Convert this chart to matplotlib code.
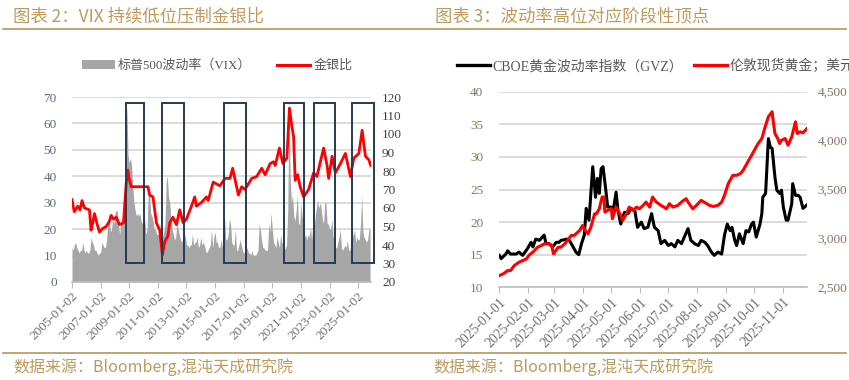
import matplotlib
matplotlib.use('Agg')
import matplotlib.pyplot as plt
import matplotlib.dates as mdates
from matplotlib.patches import Rectangle, Patch
from matplotlib.lines import Line2D
import numpy as np
import pandas as pd

plt.rcParams['font.family'] = ['Liberation Serif', 'Noto Sans CJK SC', 'DejaVu Sans']

# ---------------- Left chart data ----------------
vix_start_year = 2005
vix_monthly = [
    13, 12, 14, 15, 13, 12, 11, 12, 12, 15, 12, 11,   # 2005
    12, 11, 11, 12, 17, 15, 14, 12, 12, 11, 10, 11,   # 2006
    11, 15, 14, 13, 13, 16, 22, 26, 20, 19, 24, 22,   # 2007
    26, 27, 27, 21, 18, 23, 24, 21, 32, 60, 66, 48,   # 2008
    45, 47, 44, 36, 30, 27, 25, 26, 25, 26, 23, 22,   # 2009
    22, 24, 18, 20, 35, 34, 26, 25, 23, 20, 20, 18,   # 2010
    18, 18, 22, 16, 17, 19, 22, 38, 40, 32, 30, 24,   # 2011
    20, 18, 16, 17, 22, 20, 18, 16, 15, 17, 16, 18,   # 2012
    14, 14, 13, 14, 14, 18, 14, 15, 15, 17, 13, 14,   # 2013
    17, 14, 15, 14, 12, 11, 12, 13, 14, 20, 13, 17,   # 2014
    19, 15, 15, 13, 13, 16, 13, 27, 24, 16, 16, 18,   # 2015
    24, 22, 15, 14, 14, 20, 12, 12, 14, 16, 14, 12,   # 2016
    11, 11, 12, 13, 11, 11, 10, 12, 10, 10, 10, 11,   # 2017
    12, 22, 20, 16, 13, 13, 12, 12, 12, 22, 19, 26,   # 2018
    20, 15, 14, 13, 17, 15, 13, 18, 15, 14, 12, 13,   # 2019
    14, 28, 65, 40, 30, 33, 25, 23, 27, 33, 22, 22,   # 2020
    30, 25, 22, 17, 18, 16, 18, 17, 21, 16, 22, 19,   # 2021
    25, 28, 31, 28, 30, 28, 24, 22, 30, 30, 22, 22,   # 2022
    20, 20, 24, 17, 17, 13, 13, 15, 17, 20, 13, 12,   # 2023
    13, 14, 13, 16, 12, 12, 14, 20, 17, 20, 15, 17,   # 2024
    16, 16, 22, 33, 19, 17, 16, 15, 16, 20, 20,       # 2025
]

ratio_year = [2005.0, 2005.16, 2005.4, 2005.56, 2005.7, 2005.87, 2006.22, 2006.33, 2006.45,
              2006.57, 2006.73, 2006.92, 2007.15, 2007.39, 2007.62, 2007.74, 2007.9, 2008.09,
              2008.32, 2008.6, 2008.79, 2008.9, 2009.02, 2009.14, 2010.31, 2010.43, 2010.66,
              2010.9, 2011.13, 2011.32, 2011.48, 2011.71, 2011.83, 2012.06, 2012.3, 2012.53,
              2012.77, 2013.0, 2013.35, 2013.58, 2013.7, 2014.05, 2014.4, 2014.52, 2014.87,
              2015.34, 2015.69, 2016.04, 2016.23, 2016.63, 2016.86, 2017.09, 2017.56, 2017.91,
              2018.26, 2018.5, 2018.85, 2019.08, 2019.2, 2019.5, 2019.74, 2020.02, 2020.2,
              2020.37, 2020.49, 2020.6, 2020.77, 2020.95, 2021.19, 2021.54, 2021.89, 2022.12,
              2022.36, 2022.59, 2022.83, 2022.94, 2023.18, 2023.41, 2023.76, 2024.11, 2024.46,
              2024.7, 2025.05, 2025.28, 2025.51, 2025.75, 2025.88]
ratio_vals = [64.5, 58, 61, 59, 64, 60, 59, 48, 52,
              57, 52, 47, 49, 50, 53, 56, 54, 55,
              51, 52, 73.5, 80.5, 75, 71.5, 71.5, 67, 66,
              52, 48, 34.6, 41.8, 45, 52, 55, 51, 59,
              52, 54, 61, 66, 61, 63, 66, 64, 74,
              72, 76, 76, 81.5, 67, 71.5, 70, 76, 77,
              81.5, 78, 84, 85, 83, 92.4, 84, 87, 114,
              104, 98.6, 75, 78, 71.5, 66, 70, 79, 77,
              85, 92.4, 83, 76, 88, 79, 84, 89.5, 77,
              87, 89.5, 102, 88, 86, 83]

# highlight windows (start year, end year), drawn in right-axis units
box_start = [2008.75, 2011.3, 2015.6, 2019.8, 2021.9, 2024.6]
box_end = [2010.0, 2012.85, 2017.15, 2021.2, 2023.4, 2026.1]
box_low, box_high = 30.1, 116.6

left_xticks = [2005, 2007, 2009, 2011, 2013, 2015, 2017, 2019, 2021, 2023, 2025]
left_xlabels = ['%d-01-02' % y for y in left_xticks]

# ---------------- Right chart data ----------------
gvz_dates = ['01-01', '01-03', '01-08', '01-10', '01-13', '01-19', '01-22', '01-26', '01-31',
             '02-04', '02-06', '02-09', '02-13', '02-16', '02-18', '02-20', '02-23', '02-27',
             '03-03', '03-06', '03-08', '03-12', '03-14', '03-17', '03-21', '03-24', '03-27',
             '03-30', '04-02', '04-04', '04-07', '04-09', '04-11', '04-14', '04-16', '04-18',
             '04-20', '04-22', '04-25', '04-27', '05-01', '05-03', '05-06', '05-08', '05-11',
             '05-15', '05-19', '05-22', '05-26', '05-29', '06-02', '06-05', '06-09', '06-13',
             '06-16', '06-20', '06-23', '06-27', '07-01', '07-04', '07-08', '07-11', '07-15',
             '07-18', '07-22', '07-25', '07-29', '08-02', '08-05', '08-09', '08-12', '08-16',
             '08-19', '08-23', '08-27', '08-30', '09-02', '09-05', '09-07', '09-10', '09-12',
             '09-15', '09-19', '09-22', '09-25', '09-28', '09-30', '10-03', '10-07', '10-09',
             '10-10', '10-13', '10-16', '10-18', '10-20', '10-23', '10-25', '10-28', '10-30',
             '11-01', '11-04', '11-06', '11-10', '11-11', '11-14', '11-17', '11-19', '11-22',
             '11-26']
gvz_vals = [14.9, 14.4, 15.1, 15.6, 15.1, 15.1, 15.4, 14.9, 15.9,
            16.9, 16.2, 17.4, 17.2, 17.7, 18.0, 16.7, 16.7, 16.2,
            16.9, 16.9, 17.2, 17.3, 17.4, 17.2, 16.2, 15.4, 15.0,
            16.7, 18.0, 22.1, 20.3, 24.4, 28.5, 23.8, 26.7, 24.4,
            28.2, 28.5, 24.9, 22.3, 22.3, 21.8, 24.6, 21.8, 19.7,
            21.5, 21.3, 22.1, 21.8, 19.2, 20.0, 19.0, 19.2, 21.3,
            19.2, 18.7, 16.7, 17.2, 16.4, 16.7, 16.2, 17.2, 16.7,
            17.7, 19.0, 17.2, 16.7, 16.4, 17.2, 16.9, 16.4, 15.4,
            14.9, 15.4, 15.1, 18.0, 19.7, 18.7, 19.2, 17.2, 16.4,
            18.2, 16.7, 18.7, 18.5, 19.7, 20.0, 17.7, 19.7, 21.3,
            23.8, 24.4, 32.8, 31.5, 31.3, 26.9, 24.9, 24.4, 24.9,
            22.3, 20.3, 20.3, 22.8, 25.9, 24.1, 24.1, 23.8, 22.1,
            22.6]

gold_dates = ['01-01', '01-05', '01-10', '01-13', '01-17', '01-22', '01-26', '01-30', '02-02',
              '02-06', '02-11', '02-15', '02-18', '02-24', '02-26', '02-28', '03-05', '03-08',
              '03-12', '03-15', '03-19', '03-22', '03-28', '03-31', '04-03', '04-06', '04-09',
              '04-13', '04-15', '04-18', '04-21', '04-23', '04-24', '04-27', '05-01', '05-02',
              '05-06', '05-10', '05-13', '05-17', '05-20', '05-24', '05-28', '05-31', '06-04',
              '06-07', '06-11', '06-14', '06-18', '06-23', '06-29', '07-02', '07-06', '07-11',
              '07-15', '07-20', '07-22', '07-27', '07-31', '08-05', '08-11', '08-14', '08-18',
              '08-23', '08-27', '08-30', '09-03', '09-08', '09-12', '09-16', '09-19', '09-23',
              '09-28', '10-02', '10-05', '10-09', '10-12', '10-16', '10-20', '10-21', '10-23',
              '10-26', '10-28', '10-30', '11-03', '11-06', '11-10', '11-14', '11-16', '11-19',
              '11-22', '11-24', '11-26']
gold_vals = [2620, 2637, 2671, 2671, 2722, 2756, 2773, 2790, 2830,
             2860, 2910, 2927, 2944, 2944, 2927, 2842, 2910, 2910,
             2944, 2979, 3030, 3030, 3081, 3132, 3081, 3047, 3115,
             3252, 3252, 3303, 3423, 3423, 3269, 3286, 3303, 3201,
             3320, 3252, 3183, 3252, 3320, 3286, 3320, 3303, 3338,
             3372, 3320, 3423, 3372, 3338, 3303, 3355, 3320, 3338,
             3372, 3406, 3372, 3303, 3338, 3389, 3355, 3338, 3327,
             3338, 3372, 3440, 3560, 3645, 3645, 3662, 3697, 3765,
             3850, 3919, 3970, 4021, 4124, 4244, 4295, 4210, 4073,
             4021, 3970, 4004, 4021, 3953, 4038, 4192, 4073, 4090,
             4080, 4100, 4120]

right_xticks = ['2025-%02d-01' % m for m in range(1, 12)]

# ---------------- Styles ----------------
GOLD = '#BF9A5C'
GRID = '#D9D9D9'
AXIS = '#BFBFBF'

fig = plt.figure(figsize=(8.49, 3.8), dpi=100)

# ======== Left chart ========
ax1 = fig.add_axes([72/849, 1-282/380, 299/849, 185/380])
vix_x = [vix_start_year + i/12 for i in range(len(vix_monthly))]
ax1.fill_between(vix_x, 0, vix_monthly, color='#A6A6A6', lw=0, zorder=2)
ax1.set_ylim(0, 70)
ax1.set_yticks(range(0, 71, 10))
ax1.set_xlim(2005.0, 2025.9)
ax1.set_xticks(left_xticks)
ax1.set_xticklabels(left_xlabels, rotation=45, ha='right', rotation_mode='anchor')
ax1.grid(axis='y', color=GRID, lw=1.3, zorder=0)
ax1.set_axisbelow(True)
for s in ['top', 'left', 'right']:
    ax1.spines[s].set_visible(False)
ax1.spines['bottom'].set_color(AXIS)
ax1.spines['bottom'].set_linewidth(1.2)
ax1.tick_params(axis='y', length=0, pad=11, labelsize=9.5, labelcolor='#5B6B83')
ax1.tick_params(axis='x', length=4, color=AXIS, labelsize=9.5, labelcolor='#6E6E6E', pad=2)

ax1r = ax1.twinx()
ax1r.plot(ratio_year, ratio_vals, color='#FF0000', lw=2.0, zorder=3)
ax1r.set_ylim(20, 120)
ax1r.set_yticks(range(20, 121, 10))
for s in ['top', 'left', 'right', 'bottom']:
    ax1r.spines[s].set_visible(False)
ax1r.tick_params(axis='y', length=0, pad=8, labelsize=9.5, labelcolor='#404040')
for xs, xe in zip(box_start, box_end):
    ax1r.add_patch(Rectangle((xs, box_low), xe - xs, box_high - box_low, fill=False,
                             edgecolor='#243B55', lw=1.4, zorder=4, clip_on=False))

leg1 = fig.legend([Patch(facecolor='#A6A6A6', edgecolor='none'),
                   Line2D([], [], color='#FF0000', lw=2.2)],
                  ['标普500波动率（VIX）', '金银比'],
                  loc='center left', bbox_to_anchor=(82/849, 1-66/380), ncol=2,
                  frameon=False, fontsize=9.4, handlelength=2.5, handletextpad=0.25,
                  columnspacing=2.0, borderpad=0, borderaxespad=0)
for t in leg1.get_texts():
    t.set_color('#595959')

# ======== Right chart ========
ax2 = fig.add_axes([499.3/849, 1-287.3/380, 307.4/849, 195.6/380])
gvz_dt = pd.to_datetime(['2025-' + d for d in gvz_dates])
gold_dt = pd.to_datetime(['2025-' + d for d in gold_dates])
ax2.plot(gvz_dt, gvz_vals, color='black', lw=2.2, zorder=3)
ax2.set_ylim(10, 40)
ax2.set_yticks(range(10, 41, 5))
ax2.set_xlim(pd.Timestamp('2025-01-01'), pd.Timestamp('2025-11-26'))
ax2.set_xticks(pd.to_datetime(right_xticks))
ax2.set_xticklabels(right_xticks, rotation=45, ha='right', rotation_mode='anchor')
ax2.grid(axis='y', color=GRID, lw=1.3, zorder=0)
ax2.set_axisbelow(True)
for s in ['top', 'left', 'right']:
    ax2.spines[s].set_visible(False)
ax2.spines['bottom'].set_color(AXIS)
ax2.spines['bottom'].set_linewidth(1.2)
ax2.tick_params(axis='y', length=0, pad=11.5, labelsize=9.5, labelcolor='#8A7560')
ax2.tick_params(axis='x', length=4, color=AXIS, labelsize=9.8, labelcolor='#6E6E6E', pad=2)

ax2r = ax2.twinx()
ax2r.plot(gold_dt, gold_vals, color='#FF0000', lw=2.2, zorder=3)
ax2r.set_ylim(2500, 4500)
ax2r.set_yticks(range(2500, 4501, 500))
ax2r.set_yticklabels(['{:,}'.format(v) for v in range(2500, 4501, 500)])
for s in ['top', 'left', 'right', 'bottom']:
    ax2r.spines[s].set_visible(False)
ax2r.tick_params(axis='y', length=0, pad=8, labelsize=9.5, labelcolor='#8A7560')

leg2 = fig.legend([Line2D([], [], color='black', lw=2.4),
                   Line2D([], [], color='#FF0000', lw=2.4)],
                  ['CBOE黄金波动率指数（GVZ）', '伦敦现货黄金；美元'],
                  loc='center left', bbox_to_anchor=(457/849, 1-66/380), ncol=2,
                  frameon=False, fontsize=10, handlelength=2.4, handletextpad=0.15,
                  columnspacing=0.8, borderpad=0, borderaxespad=0)
for t in leg2.get_texts():
    t.set_color('#595959')

# ======== Titles, rules, sources ========
title_font = ['Noto Sans CJK SC', 'DejaVu Sans']
fig.text(13/849, 1-16.5/380, '图表 2：VIX 持续低位压制金银比', fontsize=12.5, color=GOLD,
         family=title_font, va='center', ha='left')
fig.text(435/849, 1-16.5/380, '图表 3：波动率高位对应阶段性顶点', fontsize=12.5, color=GOLD,
         family=title_font, va='center', ha='left')
fig.add_artist(Line2D([3/849, 846/849], [1-29/380, 1-29/380], color='#B8955A', lw=1.2))
fig.add_artist(Line2D([3/849, 846/849], [1-353/380, 1-353/380], color='#B8955A', lw=1.2))
fig.text(13/849, 1-367/380, '数据来源：Bloomberg,混沌天成研究院', fontsize=11.5, color=GOLD,
         family=title_font, va='center', ha='left')
fig.text(433/849, 1-367/380, '数据来源：Bloomberg,混沌天成研究院', fontsize=11.5, color=GOLD,
         family=title_font, va='center', ha='left')

fig.savefig('out.png', dpi=100)
